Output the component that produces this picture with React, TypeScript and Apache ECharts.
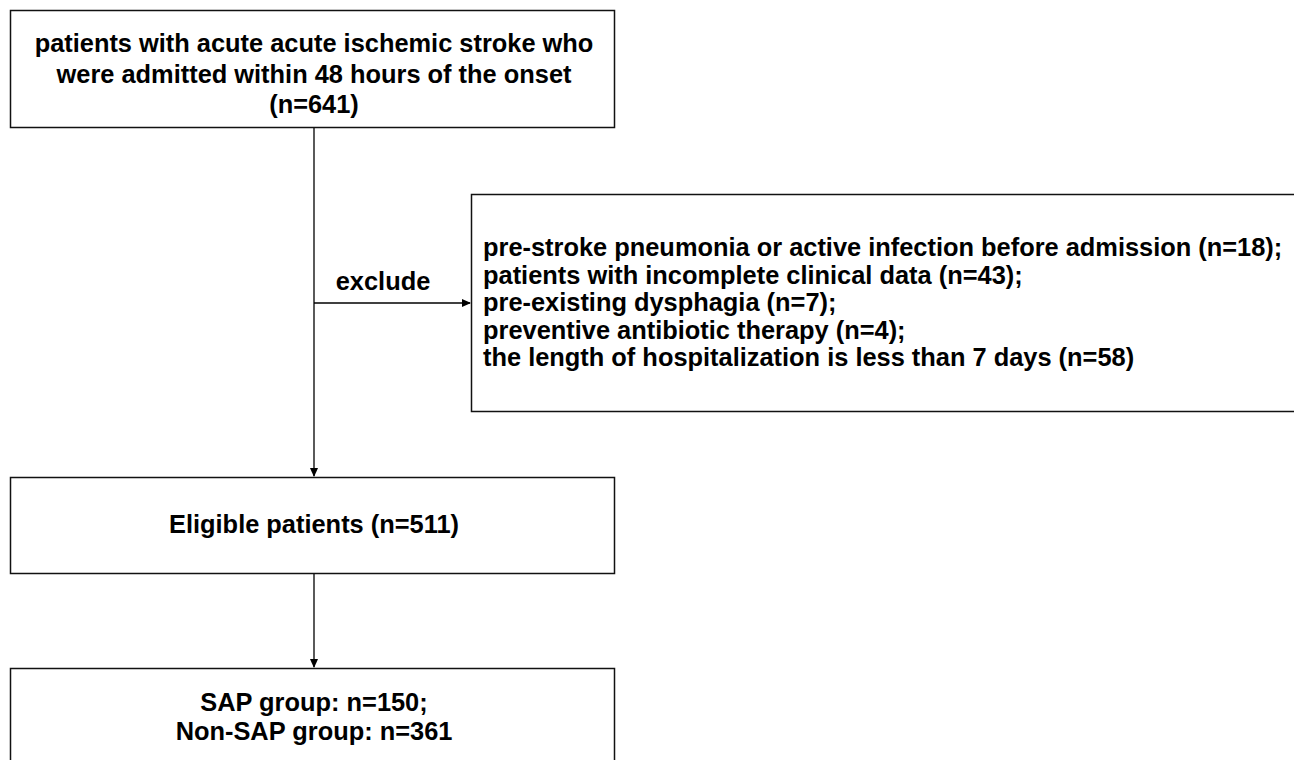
import React, { useEffect, useRef } from "react";
import * as echarts from "echarts";

const totalAdmitted = 641;
const exclusionLabels = [
  "pre-stroke pneumonia or active infection before admission",
  "patients with incomplete clinical data",
  "pre-existing dysphagia",
  "preventive antibiotic therapy",
  "the length of hospitalization is less than 7 days",
];
const exclusionCounts = [18, 43, 7, 4, 58];
const eligibleCount = 511;
const groupLabels = ["SAP group", "Non-SAP group"];
const groupCounts = [150, 361];

const FONT = "'Liberation Sans', Arial, sans-serif";
const FS = 25.4;
const LINE = "#000";

function arrowHead(x: number, y: number, dir: "down" | "right") {
  const L = 9, W = 4;
  const pts =
    dir === "down"
      ? [[x, y], [x - W, y - L], [x + W, y - L]]
      : [[x, y], [x - L, y - W], [x - L, y + W]];
  return { type: "polygon", shape: { points: pts }, style: { fill: LINE } };
}

function line(x1: number, y1: number, x2: number, y2: number) {
  return { type: "line", shape: { x1, y1, x2, y2 }, style: { stroke: LINE, lineWidth: 1.3 } };
}

function box(x: number, y: number, w: number, h: number) {
  return { type: "rect", shape: { x, y, width: w, height: h }, style: { fill: "#fff", stroke: "#111", lineWidth: 1.5 } };
}

function text(x: number, y: number, s: string, align: "center" | "left" = "center") {
  return {
    type: "text",
    x,
    y,
    style: {
      text: s,
      fill: "#000",
      font: `bold ${FS}px ${FONT}`,
      textAlign: align,
      textVerticalAlign: "middle",
    },
  };
}

export default function App() {
  const ref = useRef<HTMLDivElement>(null);
  useEffect(() => {
    if (!ref.current) return;
    const chart = echarts.init(ref.current, undefined, { renderer: "svg" });
    const cx = 314;
    const exclLines = exclusionLabels.map((l, i) => `${l} (n=${exclusionCounts[i]})${i < exclusionLabels.length - 1 ? ";" : ""}`);
    const elements: any[] = [
      line(cx, 127, cx, 476),
      arrowHead(cx, 477, "down"),
      line(cx, 303, 470, 303),
      arrowHead(471, 303, "right"),
      line(cx, 573, cx, 667),
      arrowHead(cx, 668, "down"),
      box(10.5, 10.5, 604, 117),
      box(471.5, 194.5, 830, 217),
      box(10.5, 477.5, 604, 96),
      box(10.5, 668.5, 604, 120),
      text(cx, 43, "patients with acute acute ischemic stroke who"),
      text(cx, 74, "were admitted within 48 hours of the onset"),
      text(cx, 104, `(n=${totalAdmitted})`),
      text(383, 281, "exclude"),
      ...exclLines.map((s, i) => text(483, 247 + i * 27.5, s, "left")),
      text(cx, 524, `Eligible patients (n=${eligibleCount})`),
      text(cx, 702, `${groupLabels[0]}: n=${groupCounts[0]};`),
      text(cx, 731, `${groupLabels[1]}: n=${groupCounts[1]}`),
    ];
    chart.setOption({
      animation: false,
      backgroundColor: "#fff",
      graphic: { elements },
    });
    return () => chart.dispose();
  }, []);
  return <div ref={ref} style={{ position: "fixed", left: 0, top: 0, width: 1294, height: 760 }} />;
}
